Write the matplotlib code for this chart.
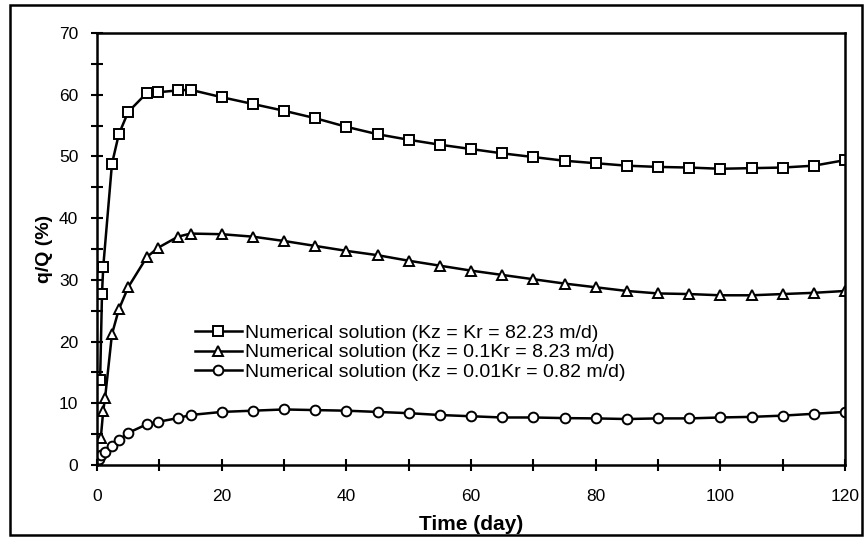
import matplotlib
matplotlib.use("Agg")
import matplotlib.pyplot as plt
from matplotlib.patches import Rectangle

# time (day) and q/Q (%)
t_sq = [0.5, 0.8, 1.0, 2.4, 3.5, 5, 8, 9.8, 13, 15, 20, 25, 30, 35, 40, 45, 50, 55,
        60, 65, 70, 75, 80, 85, 90, 95, 100, 105, 110, 115, 120]
q_sq = [13.8, 27.7, 32.1, 48.8, 53.6, 57.2, 60.3, 60.4, 60.7, 60.8, 59.6, 58.5, 57.4,
        56.2, 54.8, 53.6, 52.7, 51.9, 51.2, 50.5, 49.9, 49.3, 48.9, 48.5, 48.3, 48.2,
        48.0, 48.1, 48.2, 48.5, 49.4]

t_tri = [0.6, 1.0, 1.3, 2.4, 3.5, 5, 8, 9.8, 13, 15, 20, 25, 30, 35, 40, 45, 50, 55,
         60, 65, 70, 75, 80, 85, 90, 95, 100, 105, 110, 115, 120]
q_tri = [4.3, 8.8, 10.9, 21.2, 25.2, 28.8, 33.7, 35.2, 37.0, 37.5, 37.4, 37.0, 36.3,
         35.5, 34.7, 34.0, 33.1, 32.3, 31.5, 30.8, 30.1, 29.4, 28.8, 28.2, 27.8, 27.7,
         27.5, 27.5, 27.7, 27.9, 28.2]

t_cir = [0.3, 0.6, 1.3, 2.4, 3.6, 5, 8, 9.8, 13, 15, 20, 25, 30, 35, 40, 45, 50, 55,
         60, 65, 70, 75, 80, 85, 90, 95, 100, 105, 110, 115, 120]
q_cir = [1.0, 1.6, 2.1, 3.1, 4.1, 5.2, 6.6, 7.0, 7.6, 8.1, 8.6, 8.8, 9.0, 8.9, 8.8,
         8.6, 8.4, 8.1, 7.9, 7.7, 7.7, 7.6, 7.55, 7.45, 7.55, 7.55, 7.7, 7.8, 8.0,
         8.3, 8.6]

labels = ["Numerical solution (Kz = Kr = 82.23 m/d)",
          "Numerical solution (Kz = 0.1Kr = 8.23 m/d)",
          "Numerical solution (Kz = 0.01Kr = 0.82 m/d)"]

plt.rcParams['font.family'] = ['Liberation Sans', 'DejaVu Sans']

fig = plt.figure(figsize=(8.65, 5.45), dpi=100)
ax = fig.add_axes([97/865, 1-465/545, (845-97)/865, (465-33)/545])

style = dict(color='black', lw=1.8, mfc='white', mec='black', mew=1.4)
ax.plot(t_sq, q_sq, marker='s', ms=7, label=labels[0], **style)
ax.plot(t_tri, q_tri, marker='^', ms=7.5, label=labels[1], **style)
ax.plot(t_cir, q_cir, marker='o', ms=7, label=labels[2], **style)

ax.set_xlim(0, 120)
ax.set_ylim(0, 70)
ax.set_xticks(range(0, 121, 20))
ax.set_xticks(range(0, 121, 10), minor=True)
ax.set_yticks(range(0, 71, 10))
ax.set_yticks(range(0, 71, 5), minor=True)
ax.tick_params(which='both', direction='inout', length=9, width=1.5, labelsize=12.5,
               top=False, right=False)
ax.tick_params(axis='x', pad=13)
ax.tick_params(axis='y', pad=9)
for s in ax.spines.values():
    s.set_linewidth(1.8)

ax.set_xlabel("Time (day)", fontsize=15, fontweight='bold', labelpad=8)
ax.set_ylabel("q/Q (%)", fontsize=14, fontweight='bold', labelpad=4)

ax.legend(loc='upper left', bbox_to_anchor=(0.131, 0.326), frameon=False,
          fontsize=14, handlelength=2.4, handletextpad=0.15, labelspacing=0.1,
          borderaxespad=0, borderpad=0)

fig.patches.append(Rectangle((10/865, 1-535/545), (862-10)/865, (535-5)/545,
                             transform=fig.transFigure, fill=False, lw=1.8,
                             edgecolor='black'))

fig.savefig("out.png", dpi=100)
